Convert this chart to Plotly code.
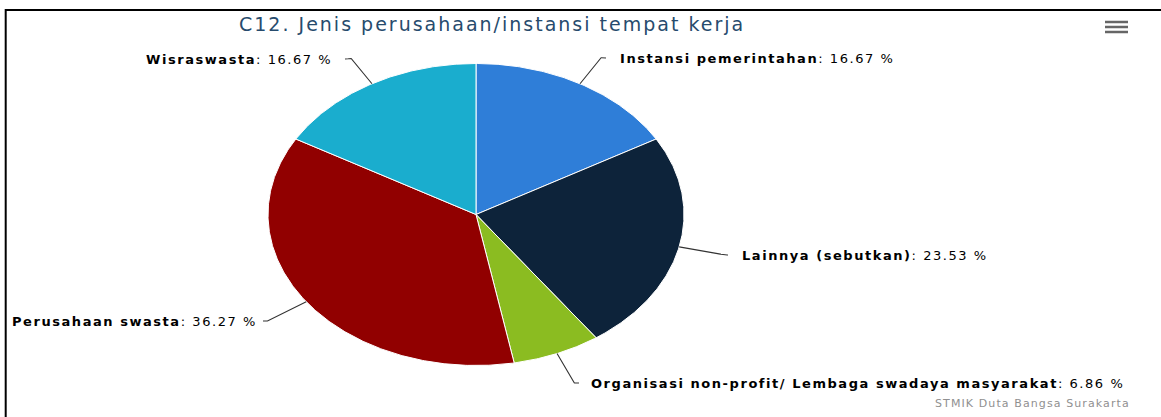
import numpy as np
import plotly.graph_objects as go

# ---------------- data ----------------
categories = [
    "Instansi pemerintahan",
    "Lainnya (sebutkan)",
    "Organisasi non-profit/ Lembaga swadaya masyarakat",
    "Perusahaan swasta",
    "Wisraswasta",
]
percentages = [16.67, 23.53, 6.86, 36.27, 16.67]
colors = ["#2f7ed8", "#0d233a", "#8bbc21", "#910000", "#1aadce"]
title_text = "C12. Jenis perusahaan/instansi tempat kerja"
credits_text = "STMIK Duta Bangsa Surakarta"

# ---------------- layout constants (pixels) ----------------
W, H = 1161, 417
CX, CY, RX, RY = 476, 214.5, 208, 151
# connector end points near each label, label side
conn_end = [(606, 58), (728, 255), (579, 383), (263, 321), (345, 59)]
label_side = ["left", "left", "left", "right", "right"]
label_gap = [12, 12, 10, -4, -11]
FONT = "DejaVu Sans"


def spaced(txt, px):
    return f'<span style="letter-spacing:{px}px">{txt}</span>'


fig = go.Figure()

vals = np.array(percentages, dtype=float)
fracs = vals / vals.sum()
starts = np.concatenate([[0], np.cumsum(fracs)[:-1]]) * 2 * np.pi
ends = np.cumsum(fracs) * 2 * np.pi

# slices
for name, a0, a1, col in zip(categories, starts, ends, colors):
    th = np.linspace(a0, a1, max(8, int((a1 - a0) * 120)))
    xs = np.concatenate([[CX], CX + RX * np.sin(th), [CX]])
    ys = np.concatenate([[CY], CY - RY * np.cos(th), [CY]])
    fig.add_trace(go.Scatter(
        x=xs, y=ys, mode="lines", fill="toself", fillcolor=col,
        line=dict(color="white", width=1), name=name,
        hoverinfo="name", showlegend=False,
    ))

# connectors + labels
annotations = []
for i, (name, a0, a1) in enumerate(zip(categories, starts, ends)):
    mid = (a0 + a1) / 2
    ex, ey = CX + RX * np.sin(mid), CY - RY * np.cos(mid)
    ox, oy = CX + RX * 1.11 * np.sin(mid), CY - RY * 1.11 * np.cos(mid)
    c1x, c1y = ox + (ox - ex) * 1.0, oy + (oy - ey) * 1.0
    lx, ly = conn_end[i]
    c2x, c2y = lx + (-8 if label_side[i] == "left" else 8), ly
    t = np.linspace(0, 1, 30)
    bx = (1 - t) ** 3 * ox + 3 * (1 - t) ** 2 * t * c1x + 3 * (1 - t) * t ** 2 * c2x + t ** 3 * lx
    by = (1 - t) ** 3 * oy + 3 * (1 - t) ** 2 * t * c1y + 3 * (1 - t) * t ** 2 * c2y + t ** 3 * ly
    xs = np.concatenate([[ex], bx])
    ys = np.concatenate([[ey], by])
    fig.add_trace(go.Scatter(x=xs, y=ys, mode="lines",
                             line=dict(color="#333333", width=1.1),
                             hoverinfo="skip", showlegend=False))
    annotations.append(dict(
        x=lx + label_gap[i], y=ly, xref="x", yref="y",
        text=spaced(f"<b>{name}</b>: {percentages[i]:.2f} %", 1.55),
        showarrow=False,
        xanchor="left" if label_side[i] == "left" else "right",
        yanchor="middle",
        font=dict(family=FONT, size=13, color="#000000"),
    ))

# title
annotations.append(dict(
    x=492, y=24, xref="x", yref="y", text=spaced(title_text, 2.0), showarrow=False,
    xanchor="center", yanchor="middle",
    font=dict(family=FONT, size=19, color="#274b6d"),
))
# credits
annotations.append(dict(
    x=1132, y=403, xref="x", yref="y", text=spaced(credits_text, 1.1), showarrow=False,
    xanchor="right", yanchor="middle",
    font=dict(family=FONT, size=11, color="#909090"),
))

shapes = [
    # frame lines (top and left)
    dict(type="line", xref="x", yref="y", x0=5, x1=W, y0=10, y1=10,
         line=dict(color="#000000", width=2)),
    dict(type="line", xref="x", yref="y", x0=5.7, x1=5.7, y0=9, y1=H,
         line=dict(color="#000000", width=2)),
]
# menu icon
for yy in (22, 27, 32):
    shapes.append(dict(type="line", xref="x", yref="y", x0=1105, x1=1128,
                       y0=yy, y1=yy, line=dict(color="#666666", width=2.5)))

fig.update_layout(
    width=W, height=H, autosize=False,
    margin=dict(l=0, r=0, t=0, b=0, pad=0),
    paper_bgcolor="white", plot_bgcolor="white",
    xaxis=dict(range=[0, W], visible=False, fixedrange=True, domain=[0, 1]),
    yaxis=dict(range=[H, 0], visible=False, fixedrange=True, domain=[0, 1]),
    annotations=annotations, shapes=shapes,
    showlegend=False,
)

fig.write_html(
    "out.html",
    config={"displayModeBar": False},
    post_script="document.body.style.margin='0';document.body.style.overflow='hidden';",
)
